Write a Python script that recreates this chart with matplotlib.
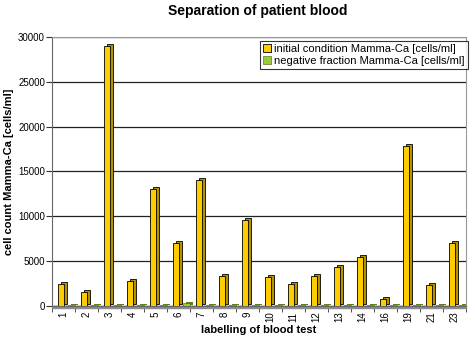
import matplotlib
matplotlib.use("Agg")
import matplotlib.pyplot as plt
import matplotlib.transforms as mtransforms
import numpy as np

plt.rcParams['font.family'] = ['Liberation Sans', 'DejaVu Sans']

# blood test labels and cell counts
tests = ["1", "2", "3", "4", "5", "6", "7", "8", "9", "10", "11", "12",
         "13", "14", "16", "19", "21", "23"]
initial = [2500, 1600, 29000, 2800, 13000, 7000, 14000, 3400, 9600, 3200,
           2400, 3400, 4400, 5500, 800, 17800, 2300, 7000]
negative = [100, 100, 150, 100, 100, 300, 150, 150, 100, 100,
            100, 100, 100, 100, 100, 100, 100, 100]

x = np.arange(len(tests))
w = 0.3

fig = plt.figure(figsize=(4.72, 3.40), dpi=100)
ax = fig.add_axes([52 / 472, 1 - 306 / 340, 414 / 472, 269 / 340])

# fake 3D depth: a darker copy of each bar pushed up and to the right
deep = ax.transData + mtransforms.ScaledTranslation(3 / 100, 2 / 100,
                                                   fig.dpi_scale_trans)
flat = ax.transData + mtransforms.ScaledTranslation(3 / 100, 1 / 100,
                                                   fig.dpi_scale_trans)

ax.bar(x - 0.11, initial, w, color="#b39200", edgecolor="black", lw=0.6,
       transform=deep, zorder=2)
ax.bar(x - 0.11, initial, w, color="#ffcc00", edgecolor="black", lw=0.6,
       zorder=3, label="initial condition Mamma-Ca [cells/ml]")
ax.bar(x + 0.33, negative, w, color="#5f7f1f", edgecolor="none",
       transform=flat, zorder=2)
ax.bar(x + 0.33, negative, w, color="#99cc33", edgecolor="#445511", lw=0.4,
       zorder=3, label="negative fraction Mamma-Ca [cells/ml]")

ax.set_xlim(-0.5, len(tests) - 0.5)
ax.set_ylim(0, 30000)
ax.set_yticks(np.arange(0, 30001, 5000))
ax.yaxis.grid(True, color="#222222", lw=0.9)
ax.set_axisbelow(True)

# floor of the 3D plot
ax.axhspan(-250, 0, color="#8c8c8c", clip_on=False, zorder=1)

ax.set_xticks(x)
ax.set_xticklabels(tests, rotation=90, fontsize=7)
ax.set_xticks(np.arange(-0.5, len(tests)), minor=True)
ax.tick_params(axis="x", which="major", length=0, pad=4)
ax.tick_params(axis="x", which="minor", length=4, color="#333333")
ax.tick_params(axis="y", labelsize=7, length=4, color="#333333", pad=1)

for s in ["top", "right"]:
    ax.spines[s].set_color("#999999")
ax.spines["left"].set_color("#666666")
ax.spines["bottom"].set_color("#666666")

ax.set_xlabel("labelling of blood test", fontsize=8, fontweight="bold",
              labelpad=2)
ax.set_ylabel("cell count Mamma-Ca [cells/ml]", fontsize=8,
              fontweight="bold", labelpad=3)
fig.text(258 / 472, 1 - 11 / 340, "Separation of patient blood",
         fontsize=10, fontweight="bold", ha="center", va="center")

leg = ax.legend(loc="upper right", bbox_to_anchor=(1.004, 0.985),
                fontsize=8, frameon=True, fancybox=False,
                handlelength=0.7, handleheight=0.7, handletextpad=0.3,
                borderpad=0.25, labelspacing=0.2, borderaxespad=0)
leg.get_frame().set_edgecolor("black")
leg.get_frame().set_linewidth(0.8)

fig.savefig("out.png", dpi=100)
